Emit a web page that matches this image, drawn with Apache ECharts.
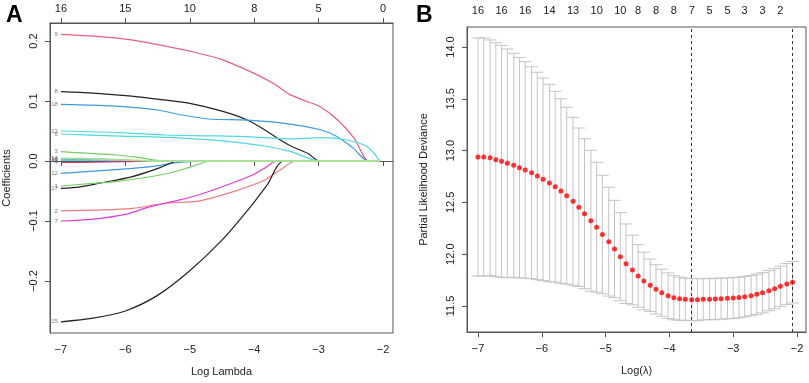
<!DOCTYPE html>
<html>
<head>
<meta charset="utf-8">
<script src="https://cdn.jsdelivr.net/npm/echarts@6/dist/echarts.min.js"></script>
<style>
  html, body { margin: 0; padding: 0; background: #fff; }
  #main { width: 809px; height: 383px; }
</style>
</head>
<body>
<div id="main"></div>
<script>
// ---- panel A : coefficient paths (log lambda, coefficient) ----
var pathNames = ['9', '8', '18', '13', '6', '3', '10', '16', '4', '12', '17', '1', '2', '7', '15', '14'];
var pathColors = ['#e8607f', '#222222', '#3d9be0', '#4fd8e0', '#4fd8e0', '#74cc62', '#3d9be0', '#4fd8e0',
                  '#df3070', '#3d9be0', '#222222', '#74cc62', '#ee7a80', '#e03cd8', '#222222', '#a8e098'];
var path9  = [[-7, 0.211], [-6.5, 0.208], [-6, 0.203], [-5.5, 0.194], [-5, 0.183], [-4.5, 0.169], [-4, 0.146],
              [-3.7, 0.129], [-3.45, 0.111], [-3.2, 0.100], [-2.97, 0.090], [-2.7, 0.068], [-2.45, 0.038], [-2.22, 0], [-2.05, 0]];
var path8  = [[-7, 0.1155], [-6.5, 0.113], [-5.9, 0.108], [-5.5, 0.103], [-5, 0.096], [-4.5, 0.083], [-4.1, 0.068],
              [-3.84, 0.052], [-3.64, 0.038], [-3.43, 0.025], [-3.17, 0.0128], [-2.98, 0], [-2.05, 0]];
var path18 = [[-7, 0.0945], [-6.5, 0.093], [-5.9, 0.0895], [-5.5, 0.085], [-5.12, 0.0767], [-4.71, 0.070], [-4.1, 0.068],
              [-3.53, 0.0628], [-2.97, 0.052], [-2.71, 0.0405], [-2.46, 0.021], [-2.23, 0], [-2.05, 0]];
var path13 = [[-7, 0.050], [-6, 0.047], [-5.38, 0.0433], [-4.7, 0.042], [-4.1, 0.0405], [-3.43, 0.0367], [-2.97, 0.039],
              [-2.56, 0.035], [-2.25, 0.024], [-2.05, 0]];
var path6  = [[-7, 0.045], [-6.2, 0.042], [-5.38, 0.0395], [-4.8, 0.036], [-4.35, 0.032], [-3.84, 0.025], [-3.43, 0.0155],
              [-2.98, 0], [-2.05, 0]];
var path3  = [[-7, 0.0155], [-6.6, 0.013], [-6.15, 0.010], [-5.8, 0.006], [-5.4, 0], [-2.05, 0]];
var path10 = [[-7, 0.003], [-6.5, 0.002], [-6.1, 0], [-2.05, 0]];
var path16 = [[-7, 0.001], [-6.3, 0.0008], [-5.5, 0.0003], [-5.2, 0], [-2.05, 0]];
var path4  = [[-7, -0.0025], [-6.5, -0.002], [-6, -0.001], [-5.45, 0], [-2.05, 0]];
var path12 = [[-7, -0.0205], [-6.5, -0.017], [-5.89, -0.0122], [-5.5, -0.008], [-5.23, -0.003], [-4.66, 0], [-2.05, 0]];
var path17 = [[-7, -0.0455], [-6.7, -0.043], [-6.4, -0.037], [-5.89, -0.026], [-5.48, -0.012], [-5.17, 0], [-2.05, 0]];
var path1  = [[-7, -0.0417], [-6.6, -0.038], [-6.15, -0.0345], [-5.38, -0.0217], [-4.97, -0.0095], [-4.66, 0], [-2.05, 0]];
var path2  = [[-7, -0.0833], [-6.5, -0.082], [-5.89, -0.079], [-5.38, -0.0705], [-4.87, -0.067], [-4.35, -0.052],
              [-3.84, -0.032], [-3.6, -0.015], [-3.35, 0], [-2.05, 0]];
var path7  = [[-7, -0.100], [-6.5, -0.097], [-6, -0.089], [-5.64, -0.077], [-5.2, -0.066], [-4.87, -0.0567], [-4.35, -0.037],
              [-4.0, -0.022], [-3.84, -0.012], [-3.64, 0], [-2.05, 0]];
var path15 = [[-7, -0.268], [-6.5, -0.262], [-6, -0.250], [-5.5, -0.224], [-5, -0.183], [-4.5, -0.132],
              [-4.1, -0.082], [-3.8, -0.040], [-3.53, 0], [-2.05, 0]];
var path14 = [[-7, 0.0045], [-6.4, 0.0035], [-5.9, 0.0015], [-5.6, 0], [-2.05, 0]];
var paths = [path9, path8, path18, path13, path6, path3, path10, path16, path4, path12, path17, path1, path2, path7, path15, path14];

var aTicks = [-7, -6, -5, -4, -3, -2];
var aTopLabels = ['16', '15', '10', '8', '5', '0'];
var aYTicks = [-0.2, -0.1, 0, 0.1, 0.2];

// ---- panel B : cross-validation curve ----
var logLambda = [-7.00, -6.91, -6.81, -6.72, -6.63, -6.54, -6.44, -6.35, -6.26, -6.16, -6.07, -5.98, -5.88, -5.79,
                 -5.70, -5.61, -5.51, -5.42, -5.33, -5.23, -5.14, -5.05, -4.95, -4.86, -4.77, -4.68, -4.58, -4.49,
                 -4.40, -4.30, -4.21, -4.12, -4.02, -3.93, -3.84, -3.75, -3.65, -3.56, -3.47, -3.37, -3.28, -3.19,
                 -3.09, -3.00, -2.91, -2.82, -2.72, -2.63, -2.54, -2.44, -2.35, -2.26, -2.16, -2.07];
var cvm = [12.938, 12.938, 12.931, 12.912, 12.897, 12.877, 12.858, 12.835, 12.813, 12.787, 12.755, 12.723, 12.687, 12.652,
           12.610, 12.565, 12.511, 12.453, 12.391, 12.323, 12.260, 12.190, 12.121, 12.050, 11.976, 11.908, 11.847, 11.790,
           11.741, 11.700, 11.661, 11.628, 11.599, 11.580, 11.570, 11.565, 11.561, 11.561, 11.565, 11.566, 11.568, 11.570,
           11.574, 11.577, 11.582, 11.590, 11.599, 11.613, 11.628, 11.648, 11.667, 11.690, 11.712, 11.729];
var cvup = [14.087, 14.087, 14.068, 14.041, 14.016, 13.981, 13.939, 13.900, 13.858, 13.810, 13.756, 13.701, 13.640, 13.572,
            13.501, 13.418, 13.321, 13.218, 13.115, 13.003, 12.887, 12.762, 12.646, 12.520, 12.401, 12.292, 12.183, 12.092,
            12.019, 11.954, 11.899, 11.855, 11.819, 11.793, 11.778, 11.768, 11.764, 11.764, 11.764, 11.764, 11.768, 11.768,
            11.771, 11.774, 11.778, 11.784, 11.793, 11.807, 11.822, 11.842, 11.861, 11.884, 11.909, 11.929];
var cvlo = [11.789, 11.789, 11.794, 11.783, 11.778, 11.773, 11.777, 11.770, 11.768, 11.764, 11.754, 11.745, 11.734, 11.732,
            11.719, 11.712, 11.701, 11.688, 11.667, 11.643, 11.633, 11.618, 11.596, 11.580, 11.551, 11.524, 11.511, 11.488,
            11.463, 11.446, 11.423, 11.401, 11.379, 11.367, 11.362, 11.362, 11.358, 11.358, 11.366, 11.368, 11.368, 11.372,
            11.377, 11.380, 11.386, 11.396, 11.405, 11.419, 11.434, 11.454, 11.473, 11.496, 11.515, 11.529];
var lambdaMin = -3.65, lambda1se = -2.07;
var nzeroAt = [-7.00, -6.63, -6.26, -5.88, -5.51, -5.14, -4.77, -4.49, -4.21, -3.93, -3.65, -3.37, -3.09, -2.82, -2.54, -2.26];
var nzeroLabels = ['16', '16', '16', '14', '13', '10', '10', '8', '8', '8', '7', '5', '5', '3', '3', '2'];
var bTicks = [-7, -6, -5, -4, -3, -2];
var bYTicks = [11.5, 12.0, 12.5, 13.0, 13.5, 14.0];

var FONT = 'Liberation Sans, Arial, sans-serif';
var MINUS = '\u2212';

function fmtNum(v, d) {
    var s = Math.abs(v).toFixed(d);
    return (v < -1e-9 ? MINUS : '') + s;
}
function lookup(arr, labels, v) {
    for (var i = 0; i < arr.length; i++) {
        if (Math.abs(arr[i] - v) < 1e-6) return labels[i];
    }
    return '';
}

var axisCol = '#555';
var labelStyle = { color: '#222', fontSize: 11, fontFamily: FONT };

function bottomAxis(gi, min, max, ticks, name) {
    return {
        type: 'value', gridIndex: gi, position: 'bottom', min: min, max: max,
        name: name, nameLocation: 'middle', nameGap: 33,
        nameTextStyle: { color: '#222', fontSize: 11, fontFamily: FONT },
        axisLine: { show: true, lineStyle: { color: axisCol } },
        axisTick: { show: true, length: 5, customValues: ticks, lineStyle: { color: axisCol } },
        axisLabel: Object.assign({ margin: 11, customValues: ticks,
            formatter: function (v) { return fmtNum(v, 0); } }, labelStyle),
        splitLine: { show: false }
    };
}
function leftAxis(gi, min, max, ticks, digits, name) {
    return {
        type: 'value', gridIndex: gi, min: min, max: max,
        name: name, nameLocation: 'middle', nameGap: 38,
        nameTextStyle: { color: '#222', fontSize: 11, fontFamily: FONT },
        axisLine: { show: true, lineStyle: { color: axisCol } },
        axisTick: { show: true, length: 5, customValues: ticks, lineStyle: { color: axisCol } },
        axisLabel: Object.assign({ margin: 11, rotate: 90, customValues: ticks,
            formatter: function (v) { return fmtNum(v, digits); } }, labelStyle),
        splitLine: { show: false }
    };
}

var series = [];
paths.forEach(function (p, i) {
    var last = i === paths.length - 1;
    series.push({
        type: 'line', xAxisIndex: 0, yAxisIndex: 0, data: p,
        smooth: 0.3, showSymbol: false, silent: true,
        lineStyle: { color: pathColors[i], width: last ? 1.8 : 1.2 }, z: 2 + i
    });
});
// variable numbers at the left end of each path
series.push({
    type: 'scatter', xAxisIndex: 0, yAxisIndex: 0, symbolSize: 0, silent: true,
    data: paths.map(function (p, i) { return { value: p[0], name: pathNames[i] }; }),
    label: { show: true, position: 'left', distance: 3, formatter: '{b}',
             fontSize: 6, color: '#555', fontFamily: FONT },
    z: 30
});

// error bars
var barW = 0.02 * (logLambda[logLambda.length - 1] - logLambda[0]);
series.push({
    type: 'custom', xAxisIndex: 2, yAxisIndex: 1,
    data: logLambda.map(function (x, i) { return [x, cvlo[i], cvup[i]]; }),
    encode: { x: 0, y: [1, 2] },
    silent: true,
    renderItem: function (params, api) {
        var x = api.value(0);
        var top = api.coord([x, api.value(2)]);
        var bot = api.coord([x, api.value(1)]);
        var w = api.size([barW, 0])[0];
        var st = { stroke: '#c4c4c4', lineWidth: 1 };
        return {
            type: 'group',
            children: [
                { type: 'line', shape: { x1: top[0], y1: top[1], x2: bot[0], y2: bot[1] }, style: st },
                { type: 'line', shape: { x1: top[0] - w, y1: top[1], x2: top[0] + w, y2: top[1] }, style: st },
                { type: 'line', shape: { x1: bot[0] - w, y1: bot[1], x2: bot[0] + w, y2: bot[1] }, style: st }
            ]
        };
    },
    z: 2
});
series.push({
    type: 'scatter', xAxisIndex: 2, yAxisIndex: 1, silent: true,
    data: logLambda.map(function (x, i) { return [x, cvm[i]]; }),
    symbol: 'circle', symbolSize: 5,
    itemStyle: { color: '#ff0000' },
    markLine: {
        silent: true, symbol: 'none', label: { show: false },
        lineStyle: { color: '#333', type: [3, 3], width: 1 },
        data: [{ xAxis: lambdaMin }, { xAxis: lambda1se }]
    },
    z: 5
});

var option = {
    animation: false,
    backgroundColor: '#fff',
    title: [
        { text: 'A', left: 6, top: 4, padding: 0, textStyle: { fontSize: 23, fontWeight: 'bold', color: '#000', fontFamily: FONT } },
        { text: 'B', left: 416, top: 4, padding: 0, textStyle: { fontSize: 23, fontWeight: 'bold', color: '#000', fontFamily: FONT } }
    ],
    grid: [
        { left: 47, top: 23, width: 346, height: 310, show: true, borderColor: axisCol, borderWidth: 1 },
        { left: 467, top: 27, width: 339, height: 305, show: true, borderColor: axisCol, borderWidth: 1 }
    ],
    xAxis: [
        bottomAxis(0, -7.169, -1.846, aTicks, 'Log Lambda'),
        {
            type: 'value', gridIndex: 0, position: 'top', min: -7.169, max: -1.846,
            axisLine: { show: true, lineStyle: { color: axisCol } },
            axisTick: { show: true, length: 5, customValues: aTicks, lineStyle: { color: axisCol } },
            axisLabel: Object.assign({ margin: 9, customValues: aTicks,
                formatter: function (v) { return lookup(aTicks, aTopLabels, v); } }, labelStyle),
            splitLine: { show: false }
        },
        bottomAxis(1, -7.172, -1.859, bTicks, 'Log(\u03bb)'),
        {
            type: 'value', gridIndex: 1, position: 'top', min: -7.172, max: -1.859,
            axisLine: { show: false }, axisTick: { show: false },
            axisLabel: Object.assign({ margin: 11, customValues: nzeroAt,
                formatter: function (v) { return lookup(nzeroAt, nzeroLabels, v); } }, labelStyle),
            splitLine: { show: false }
        }
    ],
    yAxis: [
        leftAxis(0, -0.2867, 0.23, aYTicks, 1, 'Coefficients'),
        leftAxis(1, 11.249, 14.193, bYTicks, 1, 'Partial Likelihood Deviance')
    ],
    series: series
};

var chart = echarts.init(document.getElementById('main'), null, { renderer: 'canvas' });
chart.setOption(option);
</script>
</body>
</html>
